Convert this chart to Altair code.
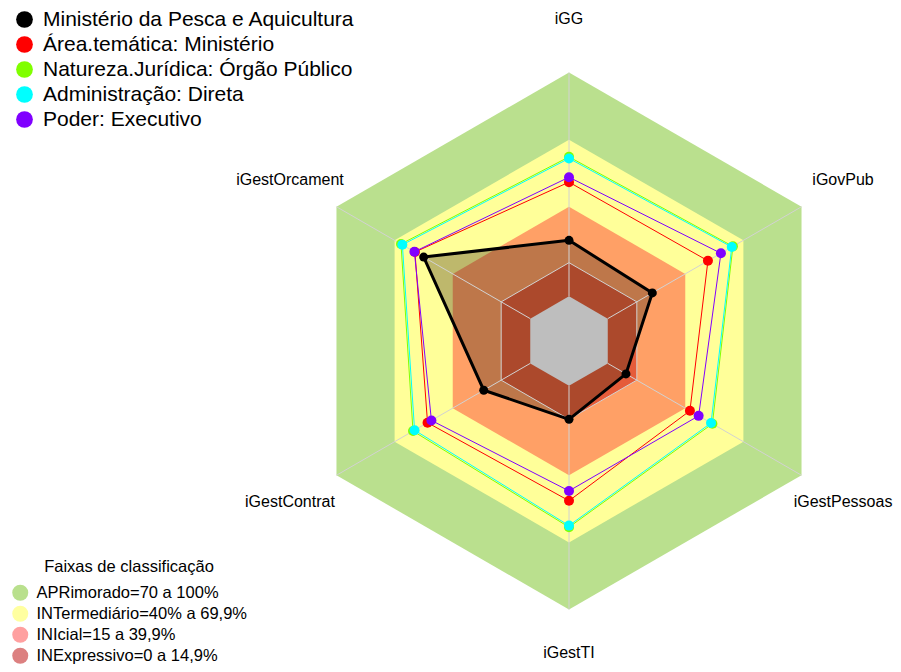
import math
import altair as alt
import pandas as pd

# ---------------- data ----------------
categories = ["iGG", "iGestOrcament", "iGestContrat", "iGestTI", "iGestPessoas", "iGovPub"]

series_names = [
    "Ministério da Pesca e Aquicultura",
    "Área.temática: Ministério",
    "Natureza.Jurídica: Órgão Público",
    "Administração: Direta",
    "Poder: Executivo",
]
v_ministerio = [25.0, 55.0, 24.0, 15.0, 9.4, 23.0]
v_area = [51.0, 59.5, 53.0, 51.4, 42.4, 51.7]
v_natureza = [62.3, 66.7, 60.5, 63.2, 54.0, 64.6]
v_administracao = [61.6, 66.0, 59.7, 62.5, 53.3, 64.0]
v_poder = [53.2, 59.8, 51.0, 47.0, 46.9, 58.4]

band_labels = [
    "APRimorado=70 a 100%",
    "INTermediário=40% a 69,9%",
    "INIcial=15 a 39,9%",
    "INExpressivo=0 a 14,9%",
]
band_upper = [100, 70, 40, 15]
legend_title = "Faixas de classificação"

# ---------------- styles ----------------
SERIES_COLORS = ["#000000", "#FF0000", "#80FF00", "#00FFFF", "#8000FF"]
BAND_FILLS = ["#BAE08E", "#FFFF99", "#FFA066", "#E55C3A"]
BAND_LEGEND_COLORS = ["#B9E08D", "#FFFFA0", "#FFA0A0", "#DC8080"]
CENTER_FILL = "#BEBEBE"
GRID = "#D2D2D2"
FONT = "Liberation Sans"

W, H = 885, 656
CX, CY, R = 561, 333, 268.5
X_DOM = [-CX / R, (W - CX) / R]
Y_DOM = [-(H - CY) / R, CY / R]

xs = alt.Scale(domain=X_DOM, nice=False, zero=False)
ys = alt.Scale(domain=Y_DOM, nice=False, zero=False)


def radius(v):
    return 1 / 6 + (5 / 6) * v / 100


def angle(i):
    return math.radians(90 + 60 * i)


def ring(values, name="", close=True):
    n = len(values)
    rows = []
    for k in range(n + 1 if close else n):
        i = k % n
        r = radius(values[i])
        rows.append({"x": r * math.cos(angle(i)), "y": r * math.sin(angle(i)),
                     "k": k, "serie": name, "cat": categories[i]})
    return pd.DataFrame(rows)


def pos():
    return dict(x=alt.X("x:Q", scale=xs, axis=None),
                y=alt.Y("y:Q", scale=ys, axis=None))


def xy():
    d = pos()
    d["order"] = alt.Order("k:Q")
    return d


cscale = alt.Scale(domain=series_names, range=SERIES_COLORS)
bscale = alt.Scale(domain=band_labels, range=BAND_LEGEND_COLORS)

layers = []

# legend carriers (zero-size points, covered by the bands)
band_df = pd.DataFrame({"band": band_labels, "x": [0.0] * 4, "y": [0.0] * 4})
layers.append(
    alt.Chart(band_df).mark_point(filled=True, opacity=1, size=0, shape="circle").encode(
        fill=alt.Fill("band:N", scale=bscale, legend=alt.Legend(
            orient="none", legendX=4, legendY=551, title=legend_title,
            titleFont=FONT, titleFontSize=16.5, titleFontWeight="normal",
            titleColor="black", titleAnchor="middle", titlePadding=9,
            symbolType="circle", symbolSize=256, symbolStrokeWidth=0,
            labelFont=FONT, labelFontSize=16.5, labelColor="black",
            labelLimit=500, rowPadding=4, labelOffset=8, padding=0)),
        **pos())
)
ser_df = pd.DataFrame({"serie": series_names, "x": [0.0] * 5, "y": [0.0] * 5})
layers.append(
    alt.Chart(ser_df).mark_point(filled=True, opacity=1, size=0, shape="circle").encode(
        color=alt.Color("serie:N", scale=cscale, legend=alt.Legend(
            orient="none", legendX=6, legendY=1, title=None,
            symbolType="circle", symbolSize=280, symbolStrokeWidth=0,
            labelFont=FONT, labelFontSize=21, labelColor="black", labelLimit=600,
            rowPadding=3, labelOffset=8, padding=0)),
        **pos())
)

# bands
for upper, fc in zip(band_upper, BAND_FILLS):
    layers.append(alt.Chart(ring([upper] * 6)).mark_line(
        fill=fc, strokeOpacity=0).encode(**xy()))

# filled polygon of the main series
layers.append(alt.Chart(ring(v_ministerio, series_names[0])).mark_line(
    fill="#342111", fillOpacity=0.32, strokeOpacity=0).encode(**xy()))

# gray center
layers.append(alt.Chart(ring([0] * 6)).mark_line(
    fill=CENTER_FILL, strokeOpacity=0).encode(**xy()))

# spokes
sp = []
for i, c in enumerate(categories):
    sp.append({"x": radius(0) * math.cos(angle(i)), "y": radius(0) * math.sin(angle(i)),
               "x2": math.cos(angle(i)), "y2": math.sin(angle(i))})
layers.append(alt.Chart(pd.DataFrame(sp)).mark_rule(color=GRID, strokeWidth=1).encode(
    x2="x2:Q", y2="y2:Q", **pos()))

# outline at 15%
layers.append(alt.Chart(ring([15] * 6)).mark_line(color=GRID, strokeWidth=1).encode(**xy()))

# axis labels (kept inside the drawing area)
lab = pd.DataFrame({"cat": categories,
                    "x": [1.2 * math.cos(angle(i)) for i in range(6)],
                    "y": [1.2 * math.sin(angle(i)) for i in range(6)]})
lab_top_left = lab[lab["cat"].isin(["iGG", "iGestOrcament", "iGestContrat"])]
lab_right = lab[lab["cat"].isin(["iGovPub", "iGestPessoas"])]
lab_bottom = lab[lab["cat"].isin(["iGestTI"])]
layers.append(alt.Chart(lab_top_left).mark_text(font=FONT, fontSize=16, color="black").encode(
    text="cat:N", **pos()))
layers.append(alt.Chart(lab_right).mark_text(font=FONT, fontSize=16, color="black", dx=-5).encode(
    text="cat:N", **pos()))
layers.append(alt.Chart(lab_bottom).mark_text(font=FONT, fontSize=16, color="black",
                                              baseline="bottom", dy=-2).encode(
    text="cat:N", **pos()))

# series
all_values = [v_ministerio, v_area, v_natureza, v_administracao, v_poder]
for idx, (name, vals, col) in enumerate(zip(series_names, all_values, SERIES_COLORS)):
    lw = 3 if idx == 0 else 1
    layers.append(alt.Chart(ring(vals, name)).mark_line(
        strokeWidth=lw, color=col).encode(**xy()))
    layers.append(alt.Chart(ring(vals, name, close=False)).mark_point(
        filled=True, opacity=1, shape="circle", color=col,
        size=81 if idx == 0 else 100).encode(**pos()))

chart = alt.layer(*layers).properties(
    width=W, height=H, autosize=alt.AutoSizeParams(type="none"), padding=0
).configure_view(strokeWidth=0)

chart.save("out.html", embed_options={"renderer": "svg", "actions": False})
